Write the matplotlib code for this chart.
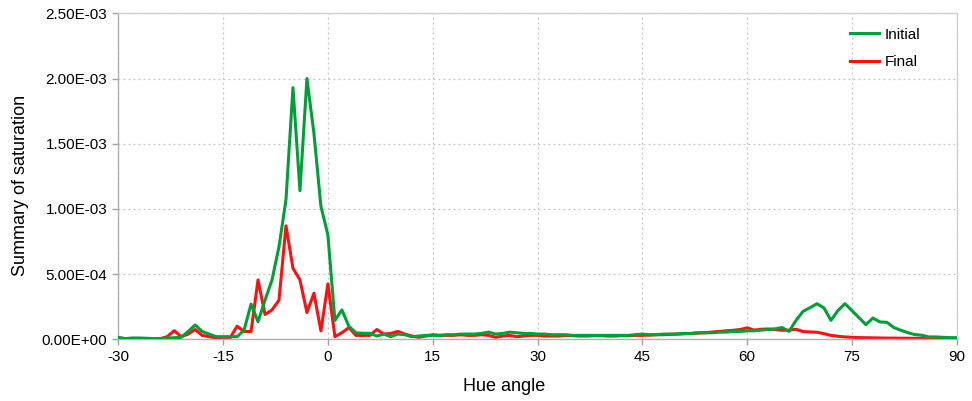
import numpy as np
import matplotlib
matplotlib.use('Agg')
import matplotlib.pyplot as plt
from matplotlib.ticker import FuncFormatter

plt.rcParams['font.family'] = ['Liberation Sans', 'DejaVu Sans']
plt.rcParams['axes.unicode_minus'] = False

# Hue angles -30..90 in 1 degree steps
hue = list(range(-30, 91))

# values, in units of 1e-3
initial = [
    0.015, 0.005, 0.010, 0.010, 0.008, 0.005, 0.005, 0.010, 0.012, 0.015,   # -30..-21
    0.060, 0.110, 0.060, 0.040, 0.020, 0.020, 0.020, 0.020, 0.070, 0.270,   # -20..-11
    0.135, 0.300, 0.455, 0.710, 1.070, 1.930, 1.140, 2.000, 1.580, 1.020,   # -10..-1
    0.800, 0.145, 0.225, 0.100, 0.050, 0.046, 0.046, 0.025, 0.040, 0.020,   # 0..9
    0.040, 0.035, 0.020, 0.025, 0.030, 0.030, 0.030, 0.035, 0.035, 0.040,   # 10..19
    0.040, 0.040, 0.045, 0.055, 0.040, 0.045, 0.055, 0.050, 0.045, 0.045,   # 20..29
    0.040, 0.040, 0.035, 0.035, 0.035, 0.030, 0.030, 0.030, 0.030, 0.030,   # 30..39
    0.030, 0.030, 0.030, 0.030, 0.035, 0.040, 0.035, 0.035, 0.040, 0.040,   # 40..49
    0.040, 0.045, 0.045, 0.050, 0.050, 0.050, 0.055, 0.055, 0.060, 0.060,   # 50..59
    0.065, 0.065, 0.070, 0.075, 0.080, 0.090, 0.060, 0.145, 0.214, 0.242,   # 60..69
    0.273, 0.240, 0.145, 0.220, 0.273, 0.220, 0.166, 0.112, 0.163, 0.133,   # 70..79
    0.130, 0.090, 0.069, 0.051, 0.036, 0.031, 0.018, 0.018, 0.015, 0.013,   # 80..89
    0.012,                                                                  # 90
]

final = [
    0.010, 0.005, 0.005, 0.005, 0.000, 0.000, 0.005, 0.020, 0.066, 0.020,   # -30..-21
    0.040, 0.075, 0.030, 0.020, 0.010, 0.000, 0.010, 0.100, 0.060, 0.060,   # -20..-11
    0.455, 0.190, 0.225, 0.300, 0.870, 0.545, 0.455, 0.205, 0.353, 0.064,   # -10..-1
    0.425, 0.020, 0.050, 0.090, 0.030, 0.030, 0.030, 0.075, 0.040, 0.045,   # 0..9
    0.060, 0.040, 0.025, 0.015, 0.025, 0.035, 0.030, 0.030, 0.030, 0.035,   # 10..19
    0.030, 0.030, 0.035, 0.030, 0.015, 0.025, 0.030, 0.020, 0.025, 0.030,   # 20..29
    0.030, 0.025, 0.025, 0.025, 0.028, 0.028, 0.025, 0.025, 0.028, 0.028,   # 30..39
    0.025, 0.025, 0.028, 0.028, 0.030, 0.030, 0.032, 0.035, 0.035, 0.038,   # 40..49
    0.040, 0.042, 0.045, 0.048, 0.050, 0.056, 0.060, 0.065, 0.069, 0.075,   # 50..59
    0.088, 0.070, 0.077, 0.079, 0.074, 0.069, 0.070, 0.077, 0.059, 0.056,   # 60..69
    0.054, 0.043, 0.030, 0.023, 0.018, 0.015, 0.013, 0.012, 0.011, 0.010,   # 70..79
    0.009, 0.009, 0.008, 0.008, 0.007, 0.007, 0.006, 0.006, 0.005, 0.005,   # 80..89
    0.005,                                                                  # 90
]

initial = np.array(initial) * 1e-3
final = np.array(final) * 1e-3

fig = plt.figure(figsize=(9.72, 4.01), dpi=100)
ax = fig.add_axes([0.1217, 0.1539, 0.8626, 0.8129])

# green drawn over red like in the original
ax.plot(hue, initial, color='#00a038', lw=2.2, label='Initial', zorder=3)
ax.plot(hue, final, color='#ff1010', lw=2.2, label='Final', zorder=2)

ax.set_xlim(-30, 90)
ax.set_ylim(0, 2.5e-3)
ax.set_xticks(range(-30, 91, 15))
ax.set_yticks(np.arange(0, 2.51e-3, 0.5e-3))
ax.yaxis.set_major_formatter(FuncFormatter(lambda v, p: f'{v:.2E}'))

ax.grid(True, color='#c4c4c4', linestyle=(0, (1.5, 2.5)), linewidth=0.9)
ax.set_axisbelow(True)
for s in ax.spines.values():
    s.set_color('#b0b0b0')
    s.set_linewidth(1.0)
ax.spines['top'].set_color('#d0d0d0')
ax.spines['right'].set_color('#d0d0d0')
ax.tick_params(axis='both', colors='#a0a0a0', labelcolor='black', labelsize=11,
               length=4, width=1)
ax.tick_params(axis='x', pad=4)
ax.tick_params(axis='y', pad=4)

ax.set_xlabel('Hue angle', fontsize=13)
ax.set_ylabel('Summary of saturation', fontsize=13)
ax.xaxis.set_label_coords(0.46, -0.118)
ax.yaxis.set_label_coords(-0.107, 0.473)

ax.legend(loc='upper right', bbox_to_anchor=(0.973, 0.998), frameon=False,
          fontsize=11, handlelength=1.9, handletextpad=0.4, labelspacing=0.9)

fig.savefig('out.png', dpi=100)
